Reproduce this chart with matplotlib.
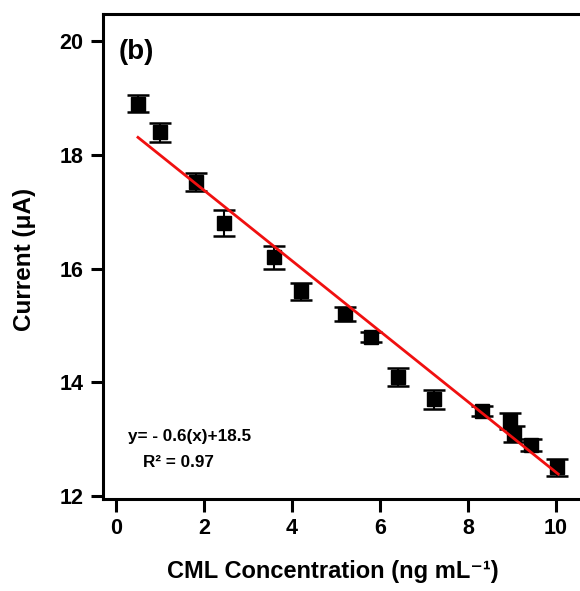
import numpy as np
import matplotlib.pyplot as plt

plt.rcParams['font.family'] = ['Liberation Sans', 'DejaVu Sans']
plt.rcParams['font.weight'] = 'bold'

# CML concentration (ng/mL) vs current (uA)
conc = [0.5, 1.0, 1.82, 2.45, 3.6, 4.2, 5.2, 5.8, 6.42, 7.22, 8.32, 8.95, 9.05, 9.43, 10.03]
current = [18.9, 18.4, 17.52, 16.8, 16.2, 15.6, 15.2, 14.8, 14.1, 13.7, 13.5, 13.32, 13.1, 12.9, 12.51]
err = [0.15, 0.17, 0.16, 0.23, 0.2, 0.15, 0.12, 0.09, 0.16, 0.17, 0.09, 0.14, 0.14, 0.1, 0.15]

# linear fit drawn in red
fit_slope = -0.62
fit_intercept = 18.62
fit_x = [0.5, 10.05]

fig = plt.figure(figsize=(5.8, 5.91), dpi=100)
ax = fig.add_axes([103 / 580, 92 / 591, 497 / 580, 485 / 591])

ax.errorbar(conc, current, yerr=err, fmt='s', color='black', ms=10.5,
            ecolor='black', elinewidth=1.5, capsize=8, capthick=1.8, zorder=3)

fx = np.array(fit_x)
ax.plot(fx, fit_slope * fx + fit_intercept, color='#f01010', lw=2, zorder=4)

ax.set_xlim(-0.295, 11.0)
ax.set_ylim(11.95, 20.48)
ax.set_xticks([0, 2, 4, 6, 8, 10])
ax.set_yticks([12, 14, 16, 18, 20])

for s in ['left', 'bottom', 'top']:
    ax.spines[s].set_linewidth(2.2)
ax.spines['right'].set_visible(False)

ax.tick_params(axis='both', direction='out', length=9, width=2.2, labelsize=15.5)
ax.tick_params(axis='x', pad=5)
ax.tick_params(axis='y', pad=5)

ax.set_xlabel('CML Concentration (ng mL⁻¹)', fontsize=17, fontweight='bold', va='center')
ax.set_ylabel('Current (μA)', fontsize=17.5, fontweight='bold', va='center')
ax.xaxis.set_label_coords(0.463, -0.15)
ax.yaxis.set_label_coords(-0.157, 0.493)

ax.text(0.05, 19.82, '(b)', fontsize=20, fontweight='bold', va='center', ha='left')
ax.text(0.28, 13.05, 'y= - 0.6(x)+18.5', fontsize=12.3, fontweight='bold', va='center', ha='left')
ax.text(0.62, 12.6, 'R² = 0.97', fontsize=12.3, fontweight='bold', va='center', ha='left')

fig.savefig('out.png', dpi=100)
